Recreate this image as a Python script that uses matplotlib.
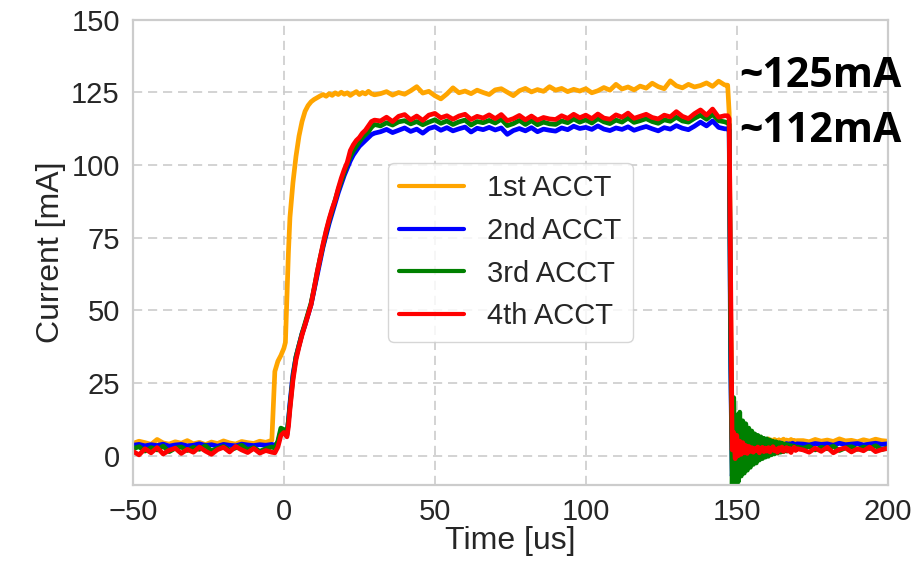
import numpy as np
import matplotlib
matplotlib.use("Agg")
import matplotlib.pyplot as plt
import seaborn as sns

# sample times [us] (denser where the traces move fast)
time_us = np.r_[np.arange(-50, -3, 2),
                [-3, -2, -1, 0, 0.5, 1, 1.5, 2],
                np.arange(3, 31, 1),
                np.arange(32, 147, 2),
                [147, 147.5],
                np.arange(148, 170.5, 0.5),
                np.arange(172, 201, 2)]

labels = ["1st ACCT", "2nd ACCT", "3rd ACCT", "4th ACCT"]
colors = ["orange", "blue", "green", "red"]

# 1st ACCT current [mA]
acct1 = [4.2, 5.0, 4.5, 3.9, 5.6, 4.4, 4.0, 4.8, 4.3, 5.2, 4.1, 4.6, 3.8, 4.7, 4.2, 5.1, 4.4, 4.0, 4.9, 4.5, 4.2, 5.0, 4.6, 5.3,
         29, 32.5, 34.5, 37, 39, 55, 70, 82,
         94, 103, 110, 115, 118.5, 120.5, 121.8, 122.6, 123.2, 123.8, 124.3, 123.7, 124.6, 124.0,
         124.9, 124.3, 125.1, 124.4, 124.9, 124.0, 124.7, 125.3, 124.3, 125.0, 124.5, 125.4, 124.6, 124.2,
         124.6, 125.3, 124.1, 125.0, 124.4, 125.6, 127.0, 124.8, 125.4, 123.9, 122.8, 124.5, 126.6, 124.9,
         125.5, 124.6, 125.8, 125.0, 124.3, 125.9, 126.3, 125.1, 123.9, 125.6, 126.4, 125.2, 126.0, 125.4,
         127.0, 125.8, 126.4, 125.3, 126.1, 125.5, 126.3, 124.9, 125.6, 126.7, 125.8, 127.8, 126.2, 126.9,
         125.9, 127.2, 126.5, 128.2, 127.0, 126.3, 129.0, 127.3, 126.6, 127.8, 126.9, 127.4, 128.3, 127.1,
         128.9, 127.6,
         127.5, 118, 50, 6,
         4.6, 5.0, 4.8, 5.3, 4.7, 5.1, 4.9, 5.4, 4.8, 5.2, 5.0, 5.6, 4.9, 5.3, 5.1, 5.7, 5.0, 5.4, 4.8, 5.2,
         5.5, 4.9, 5.3, 5.8, 5.1, 5.4, 4.9, 5.6, 5.2, 5.0, 5.5, 4.8, 5.3, 5.7, 5.1, 5.4, 4.9, 5.2, 5.6, 5.0,
         5.3, 4.8, 5.2,
         5.2, 4.8, 5.6, 5.0, 5.4, 4.9, 5.8, 5.1, 5.3, 4.8, 5.5, 5.0, 5.7, 5.2, 5.0]

# 2nd ACCT
acct2 = [3.6, 3.9, 3.4, 3.8, 3.5, 4.0, 3.3, 3.7, 3.9, 3.4, 3.6, 4.1, 3.5, 3.8, 3.3, 3.9, 3.6, 3.4, 4.0, 3.7, 3.5, 3.8, 3.6, 3.9,
         3.6, 4.5, 8.5, 8.0, 7.5, 7.0, 12, 18,
         28, 34, 38, 42, 45, 48.5, 52, 57, 62, 67, 72, 76, 80, 83.5,
         87, 90.5, 93.5, 96.5, 99, 101.5, 103.5, 105, 106.5, 107.5, 108.5, 109.5, 110.5, 111,
         111.5, 112.3, 111.2, 112.0, 112.8, 111.6, 112.4, 111.0, 112.6, 113.2, 112.0, 112.9, 111.8, 112.5,
         113.1, 111.4, 112.7, 112.2, 113.0, 112.1, 112.8, 110.6, 111.9, 112.6, 111.8, 112.9, 111.5, 112.4,
         112.0, 111.7, 112.8, 112.2, 113.4, 112.6, 113.0, 112.3, 113.5, 112.4, 111.9, 112.8, 112.3, 113.2,
         112.0, 112.7, 113.3, 112.5, 111.8, 112.9, 112.4, 113.6, 112.7, 112.2, 113.4, 114.8, 113.5, 115.2,
         113.0, 112.5,
         112.5, 112, 30, -7,
         3.0, 5.0, 4.2, 3.6, 4.4, 3.9, 4.1, 3.7, 4.3, 4.0, 3.8, 4.2, 3.9, 4.4, 4.0, 3.7, 4.1, 4.3, 3.8, 4.0,
         4.2, 3.9, 3.6, 4.1, 4.3, 3.8, 4.0, 4.2, 3.7, 3.9, 4.1, 4.4, 3.8, 4.0, 3.7, 4.2, 3.9, 4.1, 3.8, 4.3,
         4.0, 3.7, 4.1,
         4.0, 3.7, 4.2, 3.9, 4.1, 3.6, 4.3, 3.8, 4.0, 4.2, 3.7, 4.0, 4.3, 3.9, 4.1]

# 3rd ACCT (rings after the pulse end)
acct3 = [2.4, 3.1, 1.6, 2.8, 2.0, 3.3, 1.4, 2.6, 3.0, 1.8, 2.9, 2.2, 3.4, 1.7, 2.5, 3.2, 1.9, 2.7, 3.6, 2.1, 2.8, 1.5, 2.4, 3.0,
         2.6, 5.0, 9.5, 9.0, 8.0, 7.5, 12, 17,
         27, 34, 38, 42, 45.5, 49, 52.5, 57.5, 63, 68, 72.5, 77, 81, 84.5,
         88, 91.5, 94.5, 97.5, 100.5, 103, 105, 106.5, 108, 109.5, 110.5, 111.5, 113, 114,
         113.5, 114.6, 113.8, 114.9, 115.3, 114.2, 115.0, 113.9, 114.8, 115.6, 114.4, 115.2, 114.0, 114.9,
         115.5, 113.8, 115.0, 114.6, 115.4, 114.5, 115.8, 113.6, 114.3, 115.4, 114.0, 115.3, 113.9, 114.8,
         114.2, 114.0, 115.2, 114.6, 115.9, 114.8, 115.6, 114.5, 116.0, 114.9, 114.3, 115.5, 114.8, 116.2,
         114.7, 115.3, 116.0, 115.0, 114.4, 115.6, 115.1, 116.5, 115.2, 114.8, 116.1, 117.2, 115.8, 117.5,
         115.3, 114.9,
         114.5, 114, 40, -10,
         20, -10, 14, -9, 15, -7, 12, -6, 11, -5, 9.5, -4, 8.5, -3, 7.5, -2.5, 7, -1.5, 6.5, -1,
         6, -0.5, 5.8, -0.2, 5.4, 0.3, 5.0, 0.6, 4.8, 0.9, 4.5, 1.2, 4.3, 1.4, 4.0, 1.6, 3.8, 1.8, 3.5, 2.0,
         3.3, 2.1, 3.0,
         2.6, 3.2, 2.0, 2.9, 2.4, 3.3, 1.8, 2.7, 3.1, 2.2, 3.0, 2.5, 3.4, 2.1, 2.8]

# 4th ACCT
acct4 = [1.5, 0.3, 2.4, 1.0, 2.8, 0.6, 1.9, 2.6, 0.8, 2.2, 1.2, 3.0, 1.6, 0.5, 2.1, 2.9, 1.3, 3.2, 2.0, 1.1, 2.5, 0.9, 1.8, 1.2,
         1.0, 3.0, 7.0, 8.0, 7.5, 6.5, 10, 16,
         26, 33, 37.5, 41.5, 45, 48.5, 52, 57.5, 63, 68, 73, 77.5, 81.5, 85,
         88, 92, 95.5, 98.5, 101, 105, 107, 108.5, 109.5, 111, 112, 113.5, 115, 115.5,
         115.2, 116.5, 115.0, 116.8, 117.4, 115.6, 116.9, 115.4, 117.2, 117.8, 116.3, 117.0, 115.8, 116.9,
         117.5, 115.7, 116.8, 116.2, 117.3, 116.0, 117.4, 115.3, 116.0, 117.1, 115.6, 116.9, 115.5, 116.4,
         115.9, 115.7, 117.0, 116.1, 117.5, 116.3, 117.2, 116.0, 117.6, 116.2, 115.8, 117.3, 116.5, 117.9,
         116.1, 116.8, 117.5, 116.4, 115.9, 117.2, 116.6, 118.4, 116.8, 116.0, 117.7, 119.0, 117.2, 119.3,
         116.5, 117.0,
         117, 116, 60, 2,
         8, -1, 7, 0, 5, 0.5, 4.5, 1, 3.5, 0.8, 3.2, 1.5, 2.8, 1.2, 2.5, 1.8, 3.0, 1.0, 2.2, 2.9,
         1.4, 2.6, 1.6, 2.8, 1.3, 2.4, 3.1, 1.7, 2.3, 1.2, 2.7, 1.9, 3.0, 1.5, 2.2, 2.8, 1.6, 2.5, 1.1, 2.3,
         2.9, 1.8, 2.4,
         2.0, 1.2, 2.6, 1.5, 2.9, 1.0, 2.2, 2.7, 1.3, 2.4, 1.7, 3.0, 1.4, 2.1, 2.5]

annotations = ["~125mA", "~112mA"]
annotation_levels = [130.5, 111.5]

sns.set_theme(style="whitegrid")
plt.rcParams["font.family"] = ["Liberation Sans", "DejaVu Sans"]

fig, ax = plt.subplots(figsize=(9.17, 5.67), dpi=100)
fig.subplots_adjust(left=0.145, right=0.968, bottom=0.145, top=0.965)

for vals, lab, col in zip([acct1, acct2, acct3, acct4], labels, colors):
    ax.plot(time_us, vals, color=col, lw=3.4, label=lab)

ax.set_xlim(-50, 200)
ax.set_ylim(-10, 150)
ax.set_xticks(range(-50, 201, 50))
ax.set_yticks(range(0, 151, 25))
ax.grid(True, color=".8", lw=1.2, linestyle=(0, (5.5, 3.5)))
for sp in ax.spines.values():
    sp.set_color(".8")
    sp.set_linewidth(1.6)
ax.tick_params(labelsize=21, colors=".15")
ax.set_xlabel("Time [us]", fontsize=23, color=".15", labelpad=0)
ax.set_ylabel("Current [mA]", fontsize=23, color=".15", labelpad=4)

for txt, lvl in zip(annotations, annotation_levels):
    ax.text(151, lvl, txt, fontsize=29.5, fontweight="bold", family="Open Sans",
            ha="left", va="center", color="black", clip_on=False)

leg = ax.legend(loc="center", fontsize=21, handlelength=2.2, edgecolor=".8")
for line in leg.get_lines():
    line.set_linewidth(3)

fig.savefig("out.png", dpi=100)
